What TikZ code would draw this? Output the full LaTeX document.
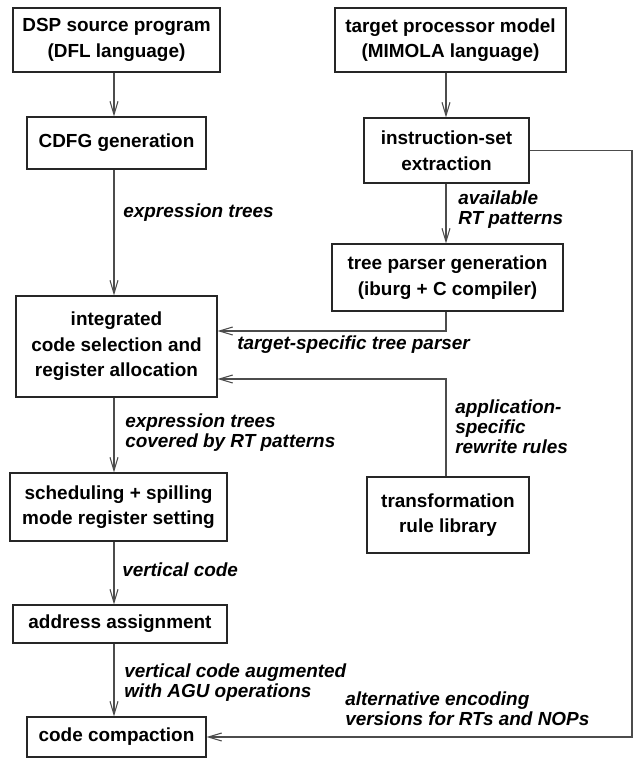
\documentclass[tikz,border=0pt]{standalone}
\usepackage{fontspec}
\setmainfont{Liberation Sans}
\usetikzlibrary{arrows.meta}

\begin{document}
\begin{tikzpicture}[x=0.75bp, y=-0.75bp, >={Straight Barb[length=10bp,width=6bp]},
    blk/.style={draw=black!85, line width=0.8bp, inner sep=0pt, align=center,
        font=\fontsize{14.2bp}{19.1bp}\selectfont\bfseries},
    lbl/.style={inner sep=0pt, anchor=west, align=left,
        font=\fontsize{14.2bp}{15bp}\selectfont\bfseries\itshape},
    arr/.style={->, draw=black!70, line width=0.8bp}]

        \useasboundingbox (0,0) rectangle (638,758);

        % LEFT COLUMN
        \node[blk, minimum width=155.25bp, minimum height=48bp] (dsp) at (116.5,40) {DSP source program\\(DFL language)};
        \node[blk, minimum width=134.25bp, minimum height=39bp] (cdfg) at (116.5,143) {CDFG generation};
        \node[blk, minimum width=150.75bp, minimum height=75.75bp] (integ) at (116.5,346.5) {integrated\\code selection and\\register allocation};
        \node[blk, minimum width=162.75bp, minimum height=51bp] (sched) at (118.5,507) {scheduling + spilling\\mode register setting};
        \node[blk, minimum width=160.5bp, minimum height=28.5bp] (addr) at (120,624) {address assignment};
        \node[blk, minimum width=134.25bp, minimum height=30bp] (comp) at (116.5,737) {code compaction};

        % RIGHT COLUMN
        \node[blk, minimum width=173.25bp, minimum height=48bp] (target) at (450.5,40) {target processor model\\(MIMOLA language)};
        \node[blk, minimum width=123.75bp, minimum height=48.75bp] (instr) at (446.5,150.5) {instruction-set\\extraction};
        \node[blk, minimum width=173.25bp, minimum height=50.25bp] (tree) at (447.5,277.5) {tree parser generation\\(iburg + C compiler)};
        \node[blk, minimum width=121.5bp, minimum height=57bp] (trans) at (448,515) {transformation\\rule library};

        % helper coordinates
        \coordinate (lcol) at (114,0);
        \coordinate (rcol) at (446,0);
        \coordinate (tpy) at (0,331);
        \coordinate (rwy) at (0,379);
        \coordinate (rim) at (632,0);

        % Arrows
        \draw[arr] (dsp.south -| lcol) -- (cdfg.north -| lcol);
        \draw[arr] (cdfg.south -| lcol) -- (integ.north -| lcol);
        \draw[arr] (integ.south -| lcol) -- (sched.north -| lcol);
        \draw[arr] (sched.south -| lcol) -- (addr.north -| lcol);
        \draw[arr] (addr.south -| lcol) -- (comp.north -| lcol);
        \draw[arr] (target.south -| rcol) -- (instr.north -| rcol);
        \draw[arr] (instr.south -| rcol) -- (tree.north -| rcol);
        \draw[arr] (tree.south -| rcol) |- (integ.east |- tpy);
        \draw[arr] (trans.north -| rcol) |- (integ.east |- rwy);
        \draw[arr] (instr.east) -- (rim |- instr.east) |- (comp.east);

        % Labels
        \node[lbl] (l_expr) at (123,213) {expression trees};
        \node[lbl] (l_avail) at (458,210) {available\\RT patterns};
        \node[lbl] (l_parser) at (237,345) {target-specific tree parser};
        \node[lbl] (l_cover) at (125,433) {expression trees\\covered by RT patterns};
        \node[lbl] (l_rules) at (455,427) {application-\\specific\\rewrite rules};
        \node[lbl] (l_vert) at (122,570) {vertical code};
        \node[lbl] (l_agu) at (124,682.5) {vertical code augmented\\with AGU operations};
        \node[lbl] (l_enc) at (345,709) {alternative encoding\\versions for RTs and NOPs};
    \end{tikzpicture}
\end{document}
